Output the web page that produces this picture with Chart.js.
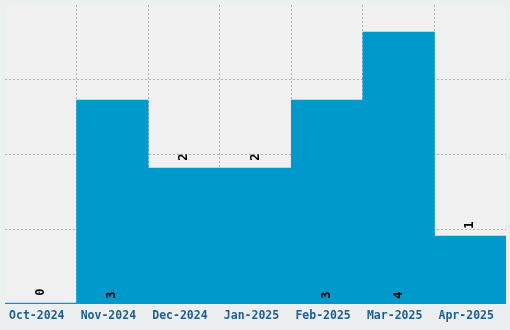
<!DOCTYPE html>
<html>
<head>
<meta charset="utf-8">
<script src="https://cdn.jsdelivr.net/npm/chart.js@4/dist/chart.umd.min.js"></script>
<style>
  body { margin: 0; background: #eceff0; }
  #wrap { width: 510px; height: 330px; }
</style>
</head>
<body>
<div id="wrap"><canvas id="chart"></canvas></div>
<script>
const months = ['Oct-2024', 'Nov-2024', 'Dec-2024', 'Jan-2025', 'Feb-2025', 'Mar-2025', 'Apr-2025'];
const counts = [0, 3, 2, 2, 3, 4, 1];
const y_ticks = [0, 1.1, 2.2, 3.3, 4.4];

const bar_color = '#0099cc';
const grid_color = 'rgba(0,0,0,0.27)';
const no_color = 'rgba(0,0,0,0)';

// light panel behind the plot area
const plot_bg = {
    id: 'plot_bg',
    beforeDraw(chart) {
        let a = chart.chartArea;
        let ctx = chart.ctx;
        ctx.save();
        ctx.fillStyle = '#f0f0f0';
        ctx.fillRect(a.left, a.top, a.right - a.left, a.bottom - a.top);
        ctx.restore();
    }
};

// rotated value labels, big bars get it at the foot, small ones above
const value_labels = {
    id: 'value_labels',
    afterDraw(chart) {
        let ctx = chart.ctx;
        let meta = chart.getDatasetMeta(0);
        ctx.save();
        ctx.font = 'bold 12px "DejaVu Sans Mono"';
        ctx.fillStyle = '#000';
        ctx.textAlign = 'center';
        ctx.textBaseline = 'middle';
        meta.data.forEach((bar, i) => {
            let v = counts[i];
            let y = v >= 3 ? bar.base - 8.5 : bar.y - 11;
            ctx.save();
            ctx.translate(bar.x, y);
            ctx.rotate(-Math.PI / 2);
            ctx.fillText(String(v), 0, 0);
            ctx.restore();
        });
        ctx.restore();
    }
};

new Chart(document.getElementById('chart'), {
    type: 'bar',
    data: {
        labels: months,
        datasets: [{
            data: counts,
            backgroundColor: bar_color,
            categoryPercentage: 1,
            barPercentage: 1,
            minBarLength: 1
        }]
    },
    options: {
        responsive: true,
        maintainAspectRatio: false,
        animation: false,
        layout: { padding: { left: 5, right: 4, top: 5, bottom: 2 } },
        plugins: { legend: { display: false }, tooltip: { enabled: false } },
        scales: {
            x: {
                z: 1,
                border: { display: false, dash: [2, 2] },
                grid: {
                    offset: true,
                    drawTicks: false,
                    color: ctx => (ctx.type !== 'tick' || ctx.index === 0) ? no_color : grid_color
                },
                ticks: {
                    color: '#1d5f90',
                    padding: 5,
                    labelOffset: -4,
                    maxRotation: 0,
                    autoSkip: false,
                    font: { family: 'DejaVu Sans Mono', weight: 'bold', size: 11.5 }
                }
            },
            y: {
                z: 1,
                min: 0,
                max: 4.4,
                afterBuildTicks: axis => { axis.ticks = y_ticks.map(v => ({ value: v })); },
                border: { display: false, dash: [2, 2] },
                grid: {
                    drawTicks: false,
                    color: ctx => (ctx.type !== 'tick' || ctx.index === 0 || ctx.index === y_ticks.length - 1) ? no_color : grid_color
                },
                ticks: { display: false }
            }
        }
    },
    plugins: [plot_bg, value_labels]
});
</script>
</body>
</html>
